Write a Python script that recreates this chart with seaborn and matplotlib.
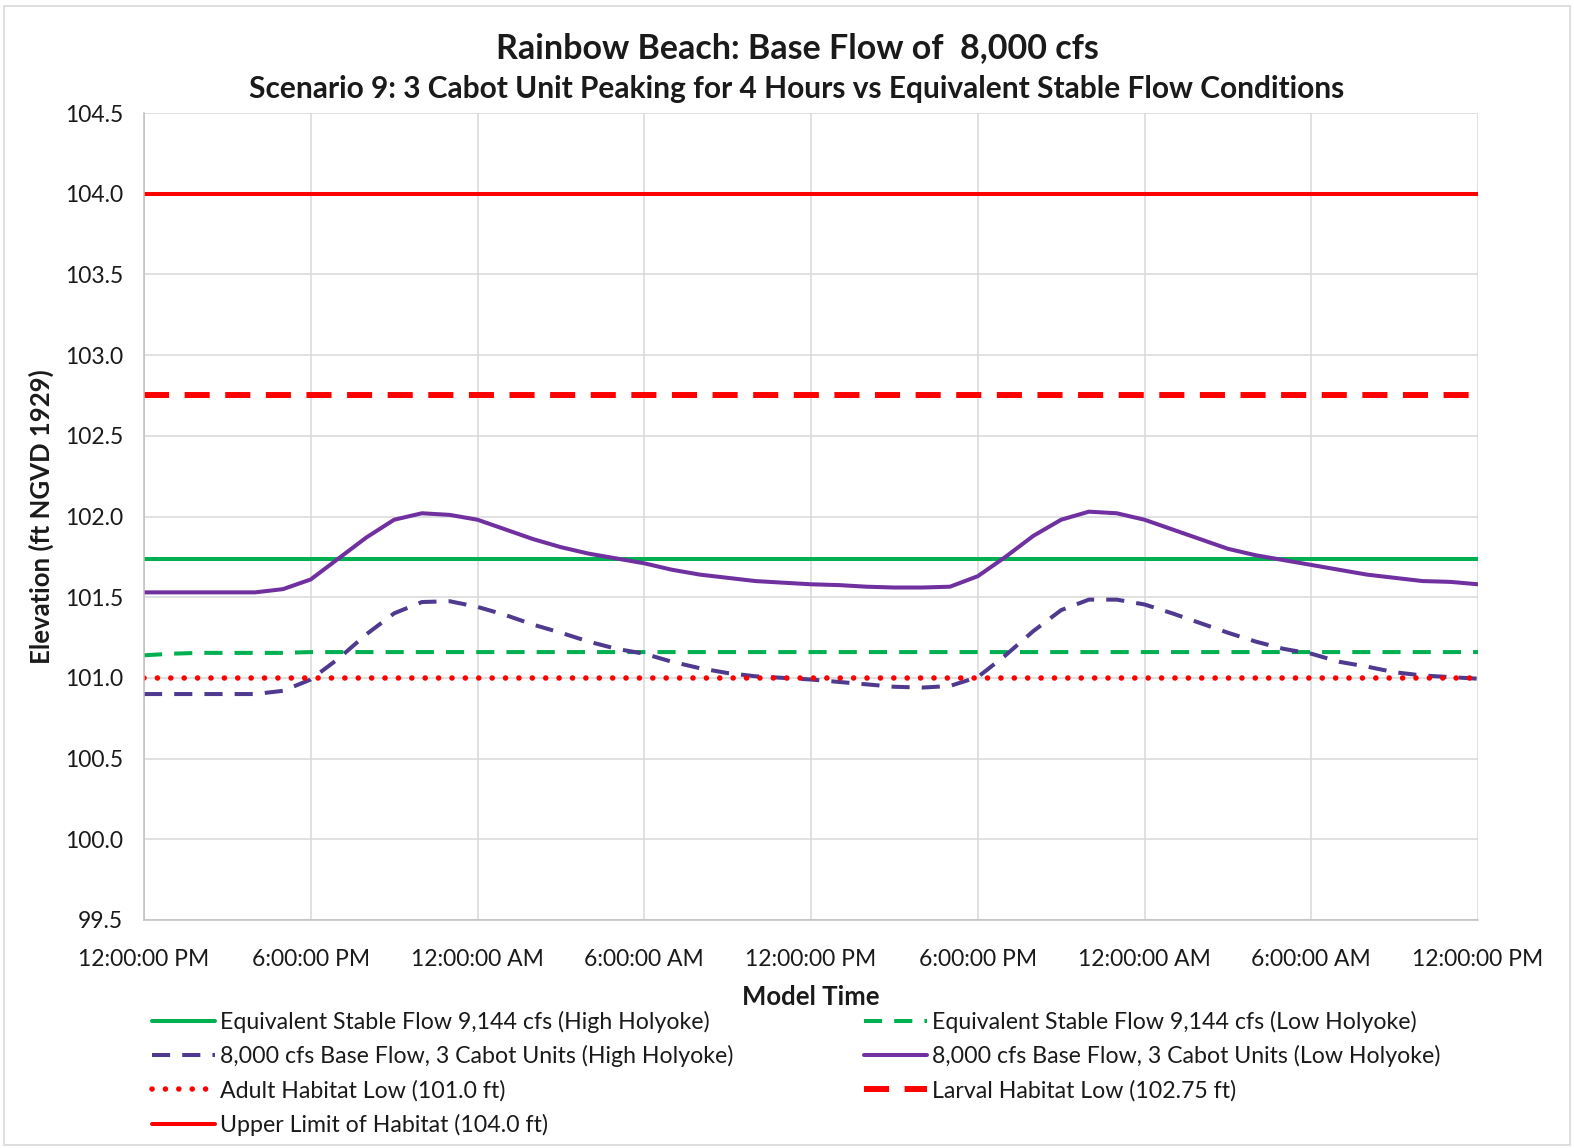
import matplotlib
matplotlib.use("Agg")
import matplotlib.pyplot as plt
import seaborn as sns
import pandas as pd
from matplotlib.patches import Rectangle

# model time in hours from 12:00 PM on day 1
hours = list(range(49))
tick_hours = [0, 6, 12, 18, 24, 30, 36, 42, 48]
tick_labels = ["12:00:00 PM", "6:00:00 PM", "12:00:00 AM", "6:00:00 AM",
               "12:00:00 PM", "6:00:00 PM", "12:00:00 AM", "6:00:00 AM",
               "12:00:00 PM"]
y_ticks = [99.5, 100.0, 100.5, 101.0, 101.5, 102.0, 102.5, 103.0, 103.5, 104.0, 104.5]

stable_high = [101.735] * 49
stable_low = [101.14, 101.15, 101.155, 101.155, 101.155, 101.155, 101.16, 101.16,
              101.16, 101.16, 101.16, 101.16, 101.16, 101.16, 101.16, 101.16,
              101.16, 101.16, 101.16, 101.16, 101.16, 101.16, 101.16, 101.16,
              101.16, 101.16, 101.16, 101.16, 101.16, 101.16, 101.16, 101.16,
              101.16, 101.16, 101.16, 101.16, 101.16, 101.16, 101.16, 101.16,
              101.16, 101.16, 101.16, 101.16, 101.16, 101.16, 101.16, 101.16,
              101.16]
peak_high = [100.90, 100.90, 100.90, 100.90, 100.90, 100.92, 100.99, 101.12,
             101.27, 101.40, 101.47, 101.475, 101.44, 101.39, 101.33, 101.28,
             101.225, 101.18, 101.15, 101.10, 101.06, 101.03, 101.01, 101.00,
             100.99, 100.975, 100.96, 100.945, 100.94, 100.95, 101.005, 101.14,
             101.29, 101.42, 101.485, 101.485, 101.455, 101.40, 101.34, 101.28,
             101.225, 101.18, 101.15, 101.10, 101.07, 101.035, 101.015, 101.005,
             100.995]
peak_low = [101.53, 101.53, 101.53, 101.53, 101.53, 101.55, 101.61, 101.74,
            101.87, 101.98, 102.02, 102.01, 101.98, 101.92, 101.86, 101.81,
            101.77, 101.74, 101.71, 101.67, 101.64, 101.62, 101.60, 101.59,
            101.58, 101.575, 101.565, 101.56, 101.56, 101.565, 101.63, 101.75,
            101.88, 101.98, 102.03, 102.02, 101.98, 101.92, 101.86, 101.80,
            101.76, 101.73, 101.70, 101.67, 101.64, 101.62, 101.60, 101.595,
            101.58]
adult_low = 101.0
larval_low = 102.75
upper_limit = 104.0

sns.set_theme(style="whitegrid")
plt.rcParams["font.family"] = ["Lato", "DejaVu Sans"]
text_color = "#1a1a1a"

fig = plt.figure(figsize=(15.74, 11.48), dpi=100)
ax = fig.add_axes([144 / 1574, 1 - 920 / 1148, (1478 - 144) / 1574, (920 - 113) / 1148])

green = "#00b050"
purple = "#7030a0"
purple_dk = "#4f3a8f"
red = "#ff0000"

series = [
    ("Equivalent Stable Flow 9,144 cfs (High Holyoke)", stable_high,
     dict(color=green, lw=2.9, linestyle="-")),
    ("Equivalent Stable Flow 9,144 cfs (Low Holyoke)", stable_low,
     dict(color=green, lw=2.9, linestyle=(0, (4.5, 3)))),
    ("8,000 cfs Base Flow, 3 Cabot Units (High Holyoke)", peak_high,
     dict(color=purple_dk, lw=2.9, linestyle=(0, (4.5, 3)))),
    ("8,000 cfs Base Flow, 3 Cabot Units (Low Holyoke)", peak_low,
     dict(color=purple, lw=2.9, linestyle="-")),
    ("Adult Habitat Low (101.0 ft)", [adult_low] * len(hours),
     dict(color=red, lw=4.0, linestyle=(0, (0.01, 2.4)), dash_capstyle="round")),
    ("Larval Habitat Low (102.75 ft)", [larval_low] * len(hours),
     dict(color=red, lw=4.3, linestyle=(0, (4.2, 2.6)))),
    ("Upper Limit of Habitat (104.0 ft)", [upper_limit] * len(hours),
     dict(color=red, lw=2.9, linestyle="-")),
]

lines = {}
for name, vals, style in series:
    df = pd.DataFrame({"hour": hours, "elev": vals})
    sns.lineplot(data=df, x="hour", y="elev", ax=ax, label=name, **style)
    lines[name] = ax.get_lines()[-1]

if ax.get_legend() is not None:
    ax.get_legend().remove()

ax.set_xlim(0, 48)
ax.set_ylim(99.5, 104.5)
ax.set_xticks(tick_hours, tick_labels)
ax.set_yticks(y_ticks, [f"{v:.1f}" for v in y_ticks])
ax.tick_params(axis="both", length=0, labelsize=16.5, labelcolor=text_color)
ax.tick_params(axis="x", pad=21)
ax.tick_params(axis="y", pad=15)
ax.grid(True, color="#d9d9d9", lw=1.1)
for side in ["top", "right"]:
    ax.spines[side].set_visible(False)
for side in ["left", "bottom"]:
    ax.spines[side].set_color("#bfbfbf")
    ax.spines[side].set_linewidth(1.1)

ax.set_xlabel("Model Time", fontsize=18.5, fontweight="bold", color=text_color, labelpad=11)
ax.set_ylabel("Elevation (ft NGVD 1929)", fontsize=18.5, fontweight="bold", color=text_color, labelpad=8)

fig.text(797 / 1574, 1 - 48 / 1148, "Rainbow Beach: Base Flow of  8,000 cfs",
         ha="center", va="center", fontsize=24.5, fontweight="bold", color=text_color)
fig.text(797 / 1574, 1 - 89 / 1148,
         "Scenario 9: 3 Cabot Unit Peaking for 4 Hours vs Equivalent Stable Flow Conditions",
         ha="center", va="center", fontsize=21.5, fontweight="bold", color=text_color)

names = [s[0] for s in series]
col1 = [names[0], names[2], names[4], names[6]]
col2 = [names[1], names[3], names[5]]
leg_kw = dict(loc="upper left", frameon=False, fontsize=16.7, handlelength=2.7,
              handletextpad=0.22, labelspacing=0.53, borderpad=0, borderaxespad=0)
for col, x0 in [(col1, 152 / 1574), (col2, 864 / 1574)]:
    leg = fig.legend([lines[n] for n in col], col, bbox_to_anchor=(x0, 1 - 1011 / 1148), **leg_kw)
    for t in leg.get_texts():
        t.set_color(text_color)

fig.patches.append(Rectangle((4 / 1574, 3 / 1148), 1566 / 1574, 1139 / 1148,
                             transform=fig.transFigure, fill=False,
                             edgecolor="#d9d9d9", lw=1.2))

fig.savefig("out.png", dpi=100)
